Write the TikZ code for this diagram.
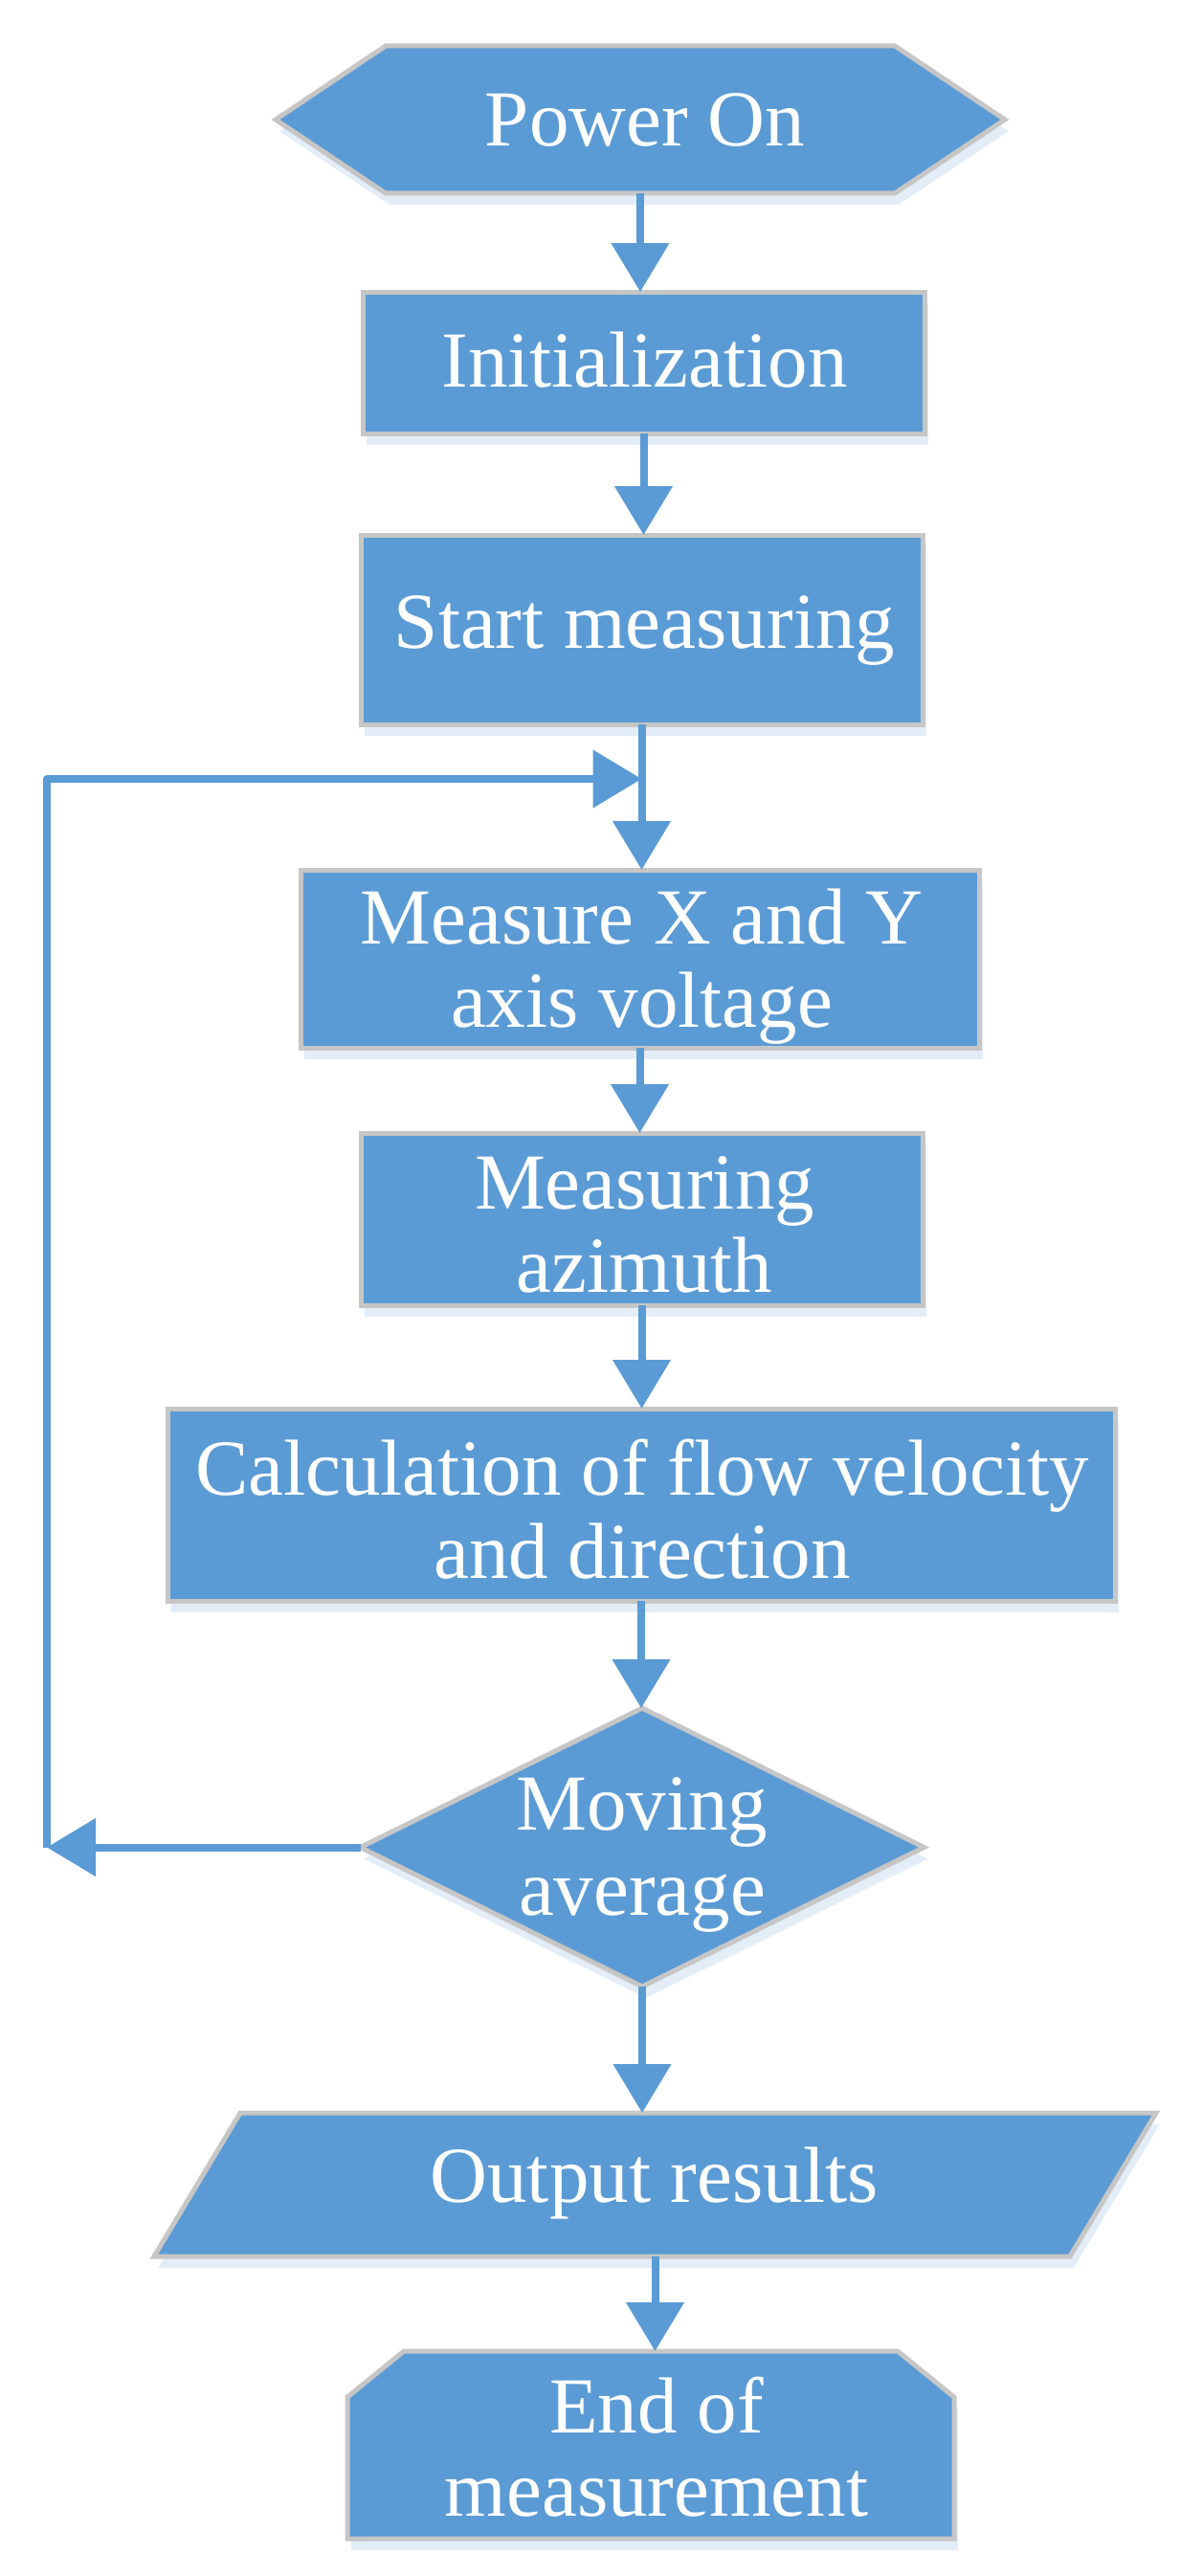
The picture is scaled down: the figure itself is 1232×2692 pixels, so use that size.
\documentclass[tikz,border=0pt]{standalone}
\usepackage{fontspec}
\setmainfont{Liberation Serif}
\usetikzlibrary{arrows.meta,calc,shadows}
\definecolor{fillblue}{HTML}{5B9BD5}
\definecolor{bordergray}{HTML}{C6C6C6}
\definecolor{lineblue}{HTML}{5B9BD5}
\definecolor{shadowblue}{HTML}{DCE9F6}
\pgfdeclarelayer{background}
\pgfsetlayers{background,main}
\tikzset{
  shp/.style={fill=fillblue, draw=bordergray, line width=5pt, line join=miter,
    drop shadow={shadow xshift=4pt, shadow yshift=-12pt, fill=shadowblue, opacity=0.8}},
  holder/.style={inner sep=0pt, outer sep=0pt},
  lbl/.style={inner sep=0pt, text=white, align=center,
    font=\fontsize{83}{87}\selectfont},
  conn/.style={draw=lineblue, line width=8pt, line join=round,
    -{Triangle[length=51pt,width=59pt]}}
}
\begin{document}
\begin{tikzpicture}[x=1pt,y=-1pt]
\useasboundingbox (0,0) rectangle (1232,2692);
% geometry nodes
\node[holder, minimum width=762pt, minimum height=154pt] (pwr) at (669,125) {};
\node[holder, minimum width=587pt, minimum height=148pt] (init) at (672.5,379) {};
\node[holder, minimum width=587pt, minimum height=198pt] (start) at (670.5,658) {};
\node[holder, minimum width=709pt, minimum height=186pt] (meas) at (668.5,1002) {};
\node[holder, minimum width=587pt, minimum height=180pt] (azi) at (670.5,1274) {};
\node[holder, minimum width=990pt, minimum height=201pt] (calc) at (670,1572.5) {};
\node[holder, minimum width=589pt, minimum height=291pt] (dec) at (671,1930.5) {};
\node[holder, minimum width=1047pt, minimum height=150pt] (out) at (684.5,2283) {};
\node[holder, minimum width=634pt, minimum height=196pt] (fin) at (680,2555) {};
% shapes
\begin{pgfonlayer}{background}
\draw[shp] (pwr.west) -- ($(pwr.north west)+(115,0)$) -- ($(pwr.north east)+(-115,0)$)
  -- (pwr.east) -- ($(pwr.south east)+(-115,0)$) -- ($(pwr.south west)+(115,0)$) -- cycle;
\draw[shp] (init.north west) rectangle (init.south east);
\draw[shp] (start.north west) rectangle (start.south east);
\draw[shp] (meas.north west) rectangle (meas.south east);
\draw[shp] (azi.north west) rectangle (azi.south east);
\draw[shp] (calc.north west) rectangle (calc.south east);
\draw[shp] (dec.north) -- (dec.east) -- (dec.south) -- (dec.west) -- cycle;
\draw[shp] ($(out.north west)+(90,0)$) -- (out.north east) -- ($(out.south east)+(-90,0)$) -- (out.south west) -- cycle;
\draw[shp] ($(fin.north west)+(59,0)$) -- ($(fin.north east)+(-59,0)$) -- ($(fin.north east)+(0,48)$)
  -- (fin.south east) -- (fin.south west) -- ($(fin.north west)+(0,48)$) -- cycle;
\end{pgfonlayer}
% labels
\node[lbl] (tpwr) at ($(pwr)+(5,0)$) {Power On};
\node[lbl] (tinit) at ($(init)+(1,-3)$) {Initialization};
\node[lbl] (tstart) at ($(start)+(3,1)$) {Start measuring};
\node[lbl] (tmeas) at ($(meas)+(2,8)$) {Measure X and Y\\axis voltage};
\node[lbl] (tazi) at ($(azi)+(3,6)$) {Measuring\\azimuth};
\node[lbl] (tcalc) at ($(calc)+(1,5)$) {Calculation of flow velocity\\and direction};
\node[lbl, font=\fontsize{83}{89}\selectfont] (tdec) at ($(dec)+(0,8)$) {Moving\\average};
\node[lbl] (tout) at ($(out)+(-1,-1)$) {Output results};
\node[lbl] (tfin) at ($(fin)+(6,2)$) {End of\\measurement};
% connectors
\draw[conn] (pwr.south) -- (pwr.south |- init.north);
\draw[conn] (init.south) -- (init.south |- start.north);
\draw[conn] (start.south) -- (start.south |- meas.north);
\draw[conn] (meas.south) -- (meas.south |- azi.north);
\draw[conn] (azi.south) -- (azi.south |- calc.north);
\draw[conn] (calc.south) -- (calc.south |- dec.north);
\draw[conn] (dec.south) -- (dec.south |- out.north);
\draw[conn] (out.south) -- (out.south |- fin.north);
% loop back
\coordinate (lpb) at (49,1930.5);
\coordinate (lpt) at (49,814);
\coordinate (jn) at (start.south |- lpt);
\draw[conn] (dec.west) -- (lpb);
\draw[conn] (lpb) -- (lpt) -- (jn);
\end{tikzpicture}
\end{document}
